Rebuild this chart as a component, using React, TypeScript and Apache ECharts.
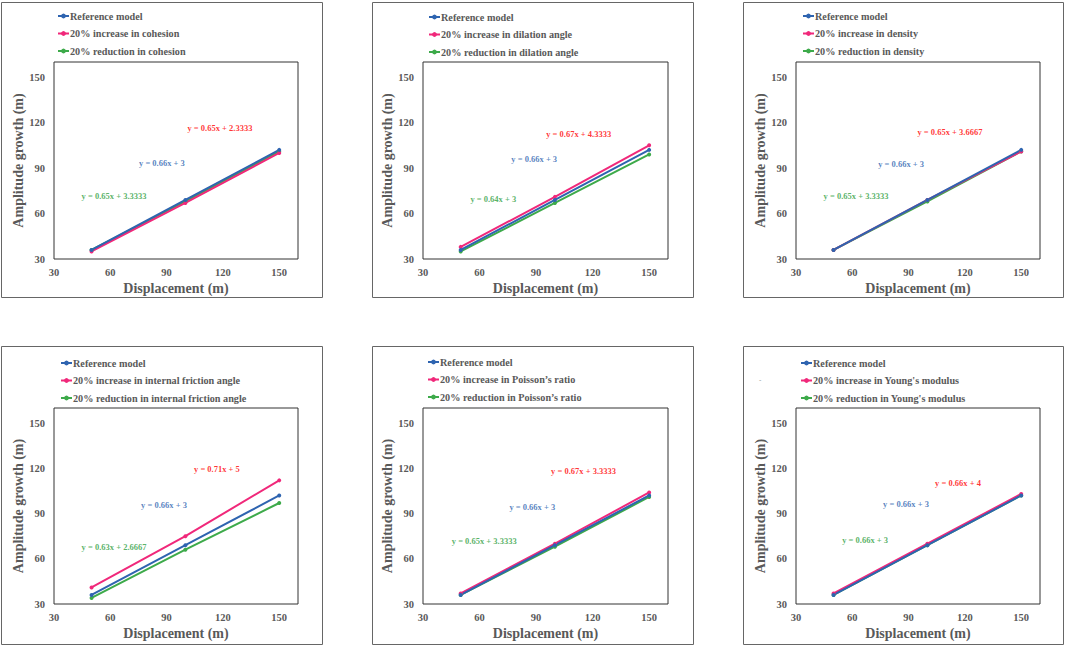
import React, { useEffect, useRef } from "react";
import * as echarts from "echarts";

const xValues = [50, 100, 150];
const referenceModel = [36, 69, 102];

const parameterNames = [
  "cohesion",
  "dilation angle",
  "density",
  "internal friction angle",
  "Poisson’s ratio",
  "Young's modulus",
];
const increaseValues = [
  [35, 67, 100],
  [38, 71, 105],
  [36, 69, 101],
  [41, 75, 112],
  [37, 70, 104],
  [37, 70, 103],
];
const reductionValues = [
  [36, 68, 101],
  [35, 67, 99],
  [36, 68, 101],
  [34, 66, 97],
  [36, 68, 101],
  [36, 69, 102],
];

const increaseEquations = [
  "y = 0.65x + 2.3333",
  "y = 0.67x + 4.3333",
  "y = 0.65x + 3.6667",
  "y = 0.71x + 5",
  "y = 0.67x + 3.3333",
  "y = 0.66x + 4",
];
const referenceEquation = "y = 0.66x + 3";
const reductionEquations = [
  "y = 0.65x + 3.3333",
  "y = 0.64x + 3",
  "y = 0.65x + 3.3333",
  "y = 0.63x + 2.6667",
  "y = 0.65x + 3.3333",
  "y = 0.66x + 3",
];
// equation label anchors in data units [x, y]
const increaseEqPos = [
  [118.4, 116.5],
  [112.6, 112.5],
  [112, 113.8],
  [116.8, 119.5],
  [115.2, 118.2],
  [116.3, 110.2],
];
const referenceEqPos = [
  [87.5, 93.4],
  [89, 96],
  [86, 92.7],
  [88.6, 95.6],
  [88, 94.3],
  [88.6, 96.3],
];
const reductionEqPos = [
  [62, 71.6],
  [67.3, 69.6],
  [62, 71.6],
  [62, 67.8],
  [62.5, 71.8],
  [66.8, 72.4],
];

const axisMin = 30;
const axisMax = 160;
const axisStep = 30;

const BLUE = "#2E64B0";
const PINK = "#F0287A";
const GREEN = "#3DAA4A";
const FONT = "Liberation Serif";
const GRAY = "#595959";

const grids = [
  { left: 54, top: 62, width: 244, height: 197 },
  { left: 423, top: 62, width: 245, height: 197 },
  { left: 796, top: 62, width: 244, height: 197 },
  { left: 54, top: 408, width: 244, height: 196 },
  { left: 423, top: 408, width: 245, height: 196 },
  { left: 796, top: 408, width: 244, height: 196 },
];
const panels = [
  { x: 1, y: 2, w: 321, h: 295 },
  { x: 372, y: 2, w: 321, h: 295 },
  { x: 743, y: 2, w: 320, h: 295 },
  { x: 1, y: 346, w: 321, h: 298 },
  { x: 372, y: 346, w: 321, h: 298 },
  { x: 743, y: 346, w: 320, h: 298 },
];
const legendPos = [
  { left: 57, top: 10 },
  { left: 428, top: 11 },
  { left: 802, top: 10 },
  { left: 60, top: 357 },
  { left: 427, top: 356 },
  { left: 800, top: 357 },
];

export default function App() {
  const ref = useRef<HTMLDivElement>(null);
  useEffect(() => {
    if (!ref.current) return;
    const chart = echarts.init(ref.current, null, { renderer: "svg" });
    const xAxis: any[] = [];
    const yAxis: any[] = [];
    const series: any[] = [];
    const legend: any[] = [];
    const grid: any[] = [];
    parameterNames.forEach((p, i) => {
      grid.push({
        ...grids[i],
        show: true,
        borderColor: "#333",
        borderWidth: 1,
        backgroundColor: "#fff",
        containLabel: false,
      });
      const axisCommon = {
        gridIndex: i,
        type: "value",
        min: axisMin,
        max: axisMax,
        interval: axisStep,
        axisLine: { show: false },
        axisTick: { show: false },
        splitLine: { show: false },
        nameLocation: "middle",
        nameTextStyle: { fontFamily: FONT, fontWeight: "bold", fontSize: 14, color: GRAY },
        axisLabel: {
          showMaxLabel: false,
          fontFamily: FONT,
          fontWeight: "bold",
          fontSize: 10.5,
          color: GRAY,
        },
      };
      xAxis.push({
        ...axisCommon,
        name: "Displacement (m)",
        nameGap: 22,
        axisLabel: { ...axisCommon.axisLabel, margin: 8 },
      });
      yAxis.push({
        ...axisCommon,
        name: "Amplitude growth (m)",
        nameGap: 25,
        nameRotate: 90,
        axisLabel: { ...axisCommon.axisLabel, margin: 9 },
      });
      const incName = "20% increase in " + p;
      const redName = "20% reduction in " + p;
      const mk = (name: string, vals: number[], color: string) => ({
        type: "line",
        name,
        xAxisIndex: i,
        yAxisIndex: i,
        data: xValues.map((x, k) => [x, vals[k]]),
        symbol: "circle",
        symbolSize: 4,
        showSymbol: true,
        lineStyle: { color, width: 2 },
        itemStyle: { color },
        silent: true,
      });
      series.push(mk(redName, reductionValues[i], GREEN));
      series.push(mk(incName, increaseValues[i], PINK));
      series.push(mk("Reference model", referenceModel, BLUE));
      const eqs = [
        [increaseEquations[i], increaseEqPos[i], "#FF0000"],
        [referenceEquation, referenceEqPos[i], "#2E64B0"],
        [reductionEquations[i], reductionEqPos[i], "#2E9E3E"],
      ] as any[];
      eqs.forEach(([text, pos, color], k) => {
        series.push({
          type: "scatter",
          name: "eq" + i + "_" + k,
          xAxisIndex: i,
          yAxisIndex: i,
          data: [pos],
          symbolSize: 1,
          itemStyle: { color: "rgba(0,0,0,0)" },
          silent: true,
          label: {
            show: true,
            position: "inside",
            formatter: text,
            color,
            fontFamily: FONT,
            fontWeight: "bold",
            fontSize: 8.5,
          },
        });
      });
      legend.push({
        ...legendPos[i],
        orient: "vertical",
        padding: 0,
        data: ["Reference model", incName, redName],
        itemWidth: 11,
        itemHeight: 6,
        itemGap: 5.5,
        selectedMode: false,
        textStyle: {
          fontFamily: FONT,
          fontWeight: "bold",
          fontSize: 10.2,
          color: GRAY,
          lineHeight: 12,
          padding: [0, 0, 0, -4],
        },
      });
    });
    const graphic: any[] = panels.map((b) => ({
      type: "rect",
      shape: { x: b.x + 0.5, y: b.y + 0.5, width: b.w, height: b.h },
      style: { fill: "none", stroke: "#666", lineWidth: 1 },
      silent: true,
      z: -1,
    }));
    graphic.push({
      type: "text",
      x: 759,
      y: 376,
      style: { text: "-", fill: "#888", fontSize: 7, fontFamily: FONT },
      silent: true,
    });
    chart.setOption({
      animation: false,
      backgroundColor: "#fff",
      grid,
      xAxis,
      yAxis,
      series,
      legend,
      graphic,
    });
    return () => chart.dispose();
  }, []);
  return (
    <div
      ref={ref}
      style={{ position: "fixed", left: 0, top: 0, width: 1065, height: 646, background: "#fff" }}
    />
  );
}
